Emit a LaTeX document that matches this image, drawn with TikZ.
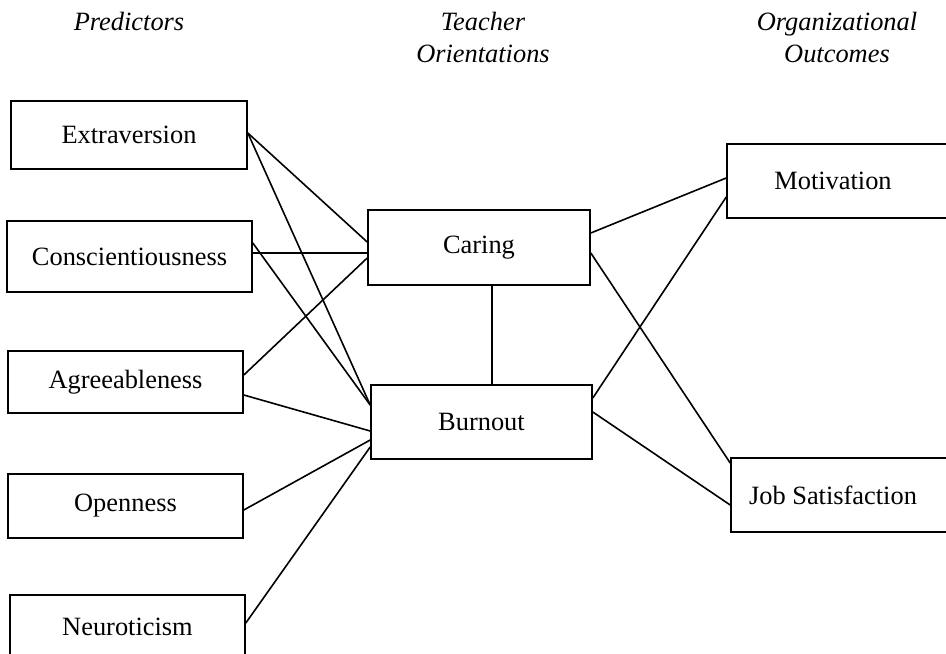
\documentclass[tikz,border=0pt]{standalone}
\usepackage{fontspec}
\setmainfont{Liberation Serif}

\begin{document}
\begin{tikzpicture}[x=0.5pt,y=-0.5pt,
    box/.style={draw, line width=0.8pt, inner sep=0pt, font=\fontsize{13.2}{15}\selectfont},
    head/.style={align=center, font=\fontsize{13.2}{16}\selectfont\itshape},
    link/.style={line width=0.8pt}]
    \useasboundingbox (0,0) rectangle (946,653);

    % Headings
    \node[head] (hpred) at (129,21) {Predictors};
    \node[head] (hteach) at (483,37) {Teacher\\Orientations};
    \node[head] (horg) at (837,37) {Organizational\\Outcomes};

    % Predictors
    \node[box, minimum width=118pt, minimum height=34pt] (extra) at (129,135) {Extraversion};
    \node[box, minimum width=122.5pt, minimum height=35.5pt] (consc) at (129.5,256.5) {Conscientiousness};
    \node[box, minimum width=117.5pt, minimum height=31pt] (agree) at (125.5,382) {Agreeableness};
    \node[box, minimum width=117.5pt, minimum height=32pt] (open) at (125.5,506) {Openness};
    \node[box, minimum width=117.5pt, minimum height=32pt] (neuro) at (127.5,627) {Neuroticism};

    % Teacher orientations
    \node[box, minimum width=111pt, minimum height=37.5pt] (caring) at (479,247.5) {Caring};
    \node[box, minimum width=110.5pt, minimum height=37pt] (burn) at (481.5,422) {Burnout};

    % Outcomes (text sits left of the box centre)
    \node[box, minimum width=111pt, minimum height=37pt] (motiv) at (838,181) {Motivation\hspace*{5pt}};
    \node[box, minimum width=111pt, minimum height=37pt] (jobsat) at (842,495) {Job Satisfaction\hspace*{9pt}};

    % Predictors to orientations
    \draw[link] ([yshift=1pt]extra.east) -- ([yshift=2.75pt]caring.west);
    \draw[link] ([yshift=1pt]extra.east) -- ([yshift=8.5pt]burn.west);
    \draw[link] ([yshift=1.75pt]consc.east) -- ([yshift=-2.75pt]caring.west);
    \draw[link] ([yshift=6.75pt]consc.east) -- ([yshift=8.5pt]burn.west);
    \draw[link] ([yshift=3.5pt]agree.east) -- ([yshift=-5.25pt]caring.west);
    \draw[link] ([yshift=-6.5pt]agree.east) -- ([yshift=-4.5pt]burn.west);
    \draw[link] ([yshift=-2pt]open.east) -- ([yshift=-9pt]burn.west);
    \draw[link] ([yshift=2pt]neuro.east) -- ([yshift=-12.5pt]burn.west);

    % Between orientations
    \draw[link] ([xshift=6.5pt]caring.south) -- ([xshift=5.25pt]burn.north);

    % Orientations to outcomes
    \draw[link] ([yshift=7.25pt]caring.east) -- ([yshift=1.5pt]motiv.west);
    \draw[link] ([yshift=-2.75pt]caring.east) -- ([yshift=16pt]jobsat.west);
    \draw[link] ([yshift=12pt]burn.east) -- ([yshift=-8pt]motiv.west);
    \draw[link] ([yshift=5pt]burn.east) -- ([yshift=-5pt]jobsat.west);

\end{tikzpicture}
\end{document}
